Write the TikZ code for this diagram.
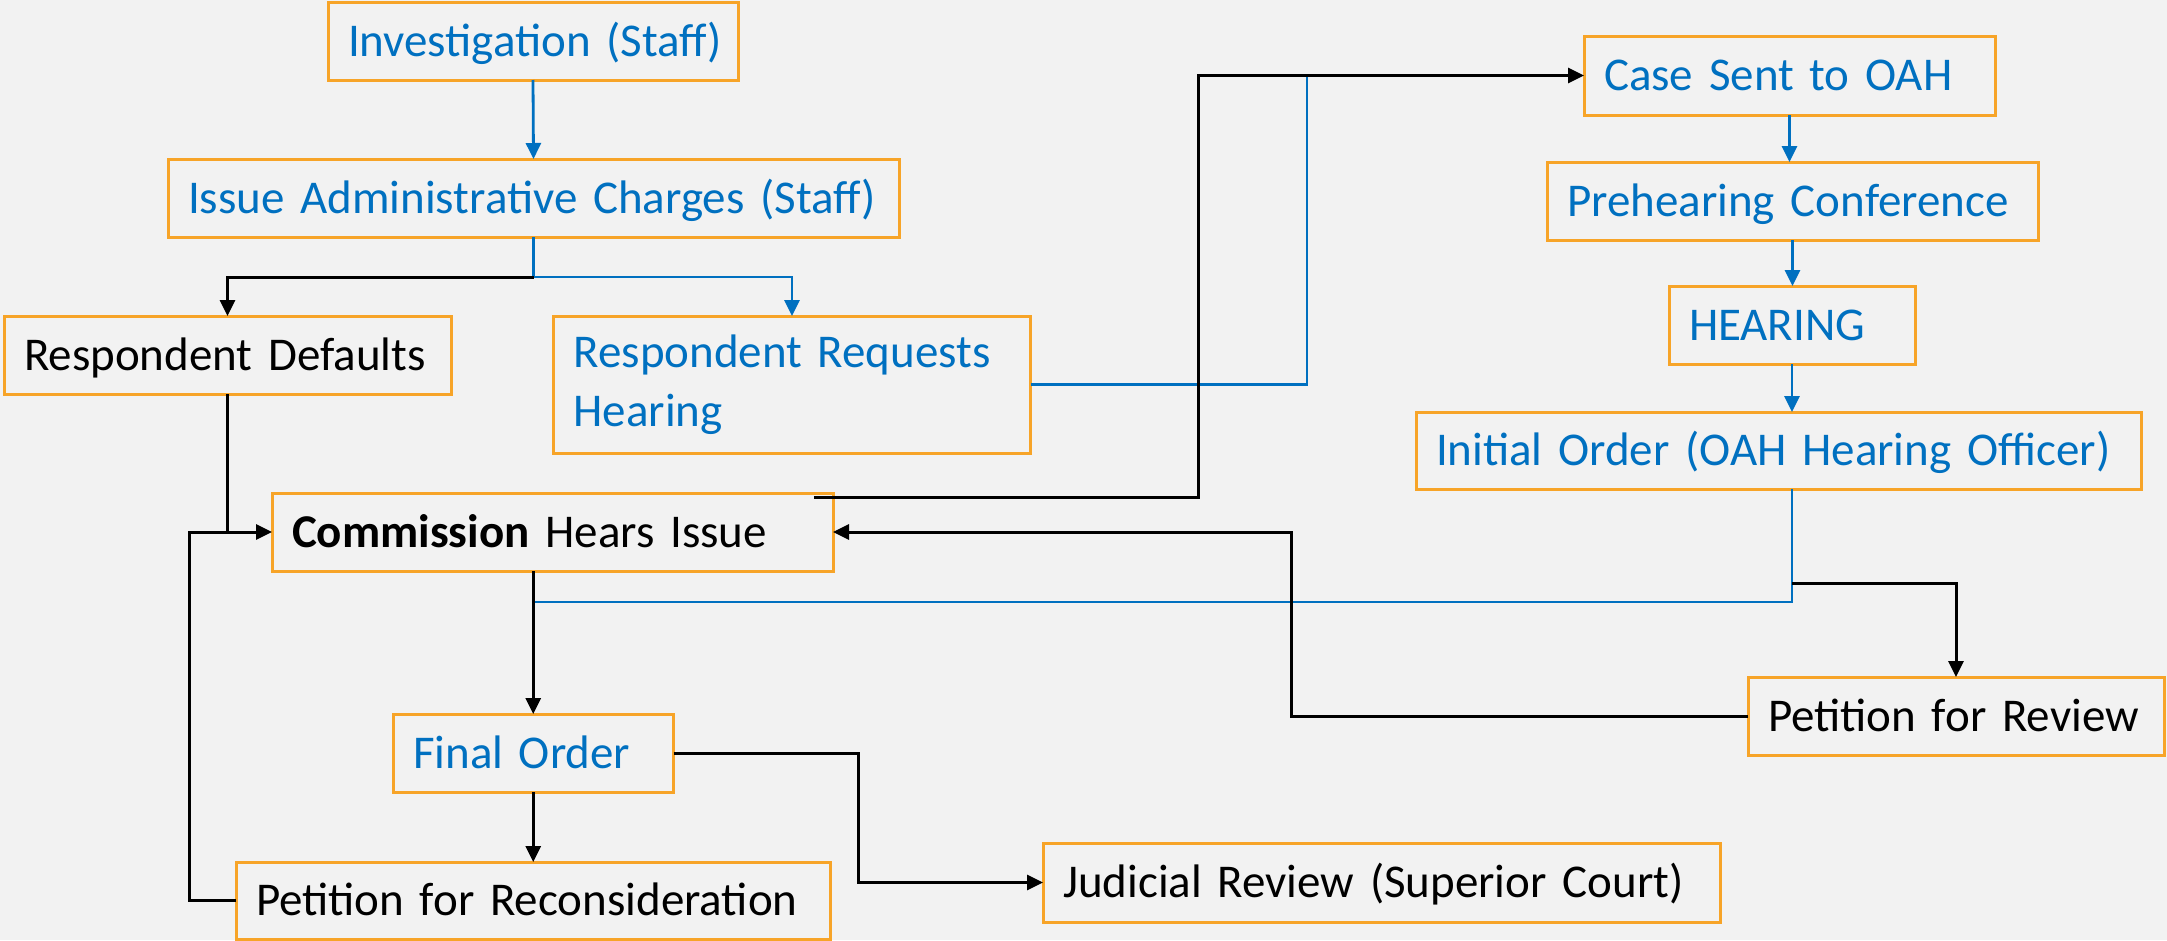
\documentclass[tikz,border=0pt]{standalone}
\usepackage{fontspec}
\setmainfont{Carlito}[WordSpace=0.85]
\usetikzlibrary{arrows.meta}
\definecolor{bgc}{HTML}{F2F2F2}
\definecolor{oblue}{HTML}{0070C0}
\definecolor{oorange}{HTML}{F7A428}
\begin{document}
\begin{tikzpicture}[x=1pt,y=-1pt,
  stepbox/.style={draw=oorange, line width=3pt, rectangle, outer sep=0pt,
    inner xsep=20pt, inner ysep=0pt, align=left, anchor=north west,
    minimum height=78pt, font=\fontsize{47}{59}\selectfont},
  oneline/.style={text height=30.5pt, text depth=0pt},
  bluetext/.style={text=oblue},
  blacktext/.style={text=black},
  bl/.style={draw=oblue, line width=2.8pt},
  bk/.style={draw=black, line width=3pt},
  arr/.style={-{Triangle[length=16pt,width=15pt]}}]
\fill[bgc] (0,0) rectangle (2167,940);
\useasboundingbox (0,0) rectangle (2167,940);

% nodes
\node[stepbox, oneline, bluetext, text width=370pt] (inv) at (328,2) {\mbox{Investigation (Staff)}};
\node[stepbox, oneline, bluetext, text width=691pt] (iac) at (168,159) {\mbox{Issue Administrative Charges (Staff)}};
\node[stepbox, oneline, blacktext, text width=407pt] (rd) at (4,316) {\mbox{Respondent Defaults}};
\node[stepbox, bluetext, text width=437pt, minimum height=137pt] (rrh) at (553.5,316) {\mbox{Respondent Requests}\\Hearing};
\node[stepbox, oneline, bluetext, text width=371pt, minimum height=79pt] (cso) at (1584,36) {\mbox{Case Sent to OAH}};
\node[stepbox, oneline, bluetext, text width=451pt] (phc) at (1547,162) {\mbox{Prehearing Conference}};
\node[stepbox, oneline, bluetext, text width=206pt] (hear) at (1669,286) {HEARING};
\node[stepbox, oneline, bluetext, text width=685pt, minimum height=77pt] (io) at (1416,412) {\mbox{Initial Order (OAH Hearing Officer)}};
\node[stepbox, oneline, blacktext, text width=521pt] (cmh) at (272,493) {\mbox{\textbf{Commission} Hears Issue}};
\node[stepbox, oneline, blacktext, text width=376pt] (pfr) at (1748,677) {\mbox{Petition for Review}};
\node[stepbox, oneline, bluetext, text width=240.5pt] (fo) at (393,714) {\mbox{Final Order}};
\node[stepbox, oneline, blacktext, text width=554pt, minimum height=77pt] (prc) at (236,862) {\mbox{Petition for Reconsideration}};
\node[stepbox, oneline, blacktext, text width=637pt, minimum height=79pt] (jr) at (1043,843) {\mbox{Judicial Review (Superior Court)}};

% helper coordinates
\coordinate (br) at (533.5,277);
\coordinate (jb) at (1307,76);
\coordinate (cs) at (814,497);
\coordinate (lx) at (189,0);
\coordinate (by) at (0,602);
\coordinate (ky) at (0,583);

% blue connectors
\draw[bl, arr] (inv.south) -- (iac.north);
\draw[bl] (iac.south) -- (br);
\draw[bl, arr] (br) -| (rrh.north);
\draw[bl] (rrh.east) -| (jb);
\draw[bl, arr] (cso.south) -- (cso.south |- phc.north);
\draw[bl, arr] (phc.south) -- (phc.south |- hear.north);
\draw[bl, arr] (hear.south) -- (hear.south |- io.north);
\draw[bl] (hear.south |- io.south) -- (hear.south |- by) -- (fo.north |- by);

% black connectors
\draw[bk, arr] (br) -| (rd.north);
\draw[bk, arr] (cs) -- (1198,497) |- (cso.west);
\draw[bk, arr] (hear.south |- ky) -| (pfr.north);
\draw[bk, arr] (pfr.west) -- (1291,716) |- (cmh.east);
\draw[bk] (rd.south) -- (rd.south |- cmh.west);
\draw[bk, arr] (prc.west) -- (prc.west -| lx) |- (cmh.west);
\draw[bk, arr] (fo.north |- cmh.south) -- (fo.north);
\draw[bk, arr] (fo.south) -- (fo.south |- prc.north);
\draw[bk, arr] (fo.east) -- (858,753) |- (jr.west);
\end{tikzpicture}
\end{document}
